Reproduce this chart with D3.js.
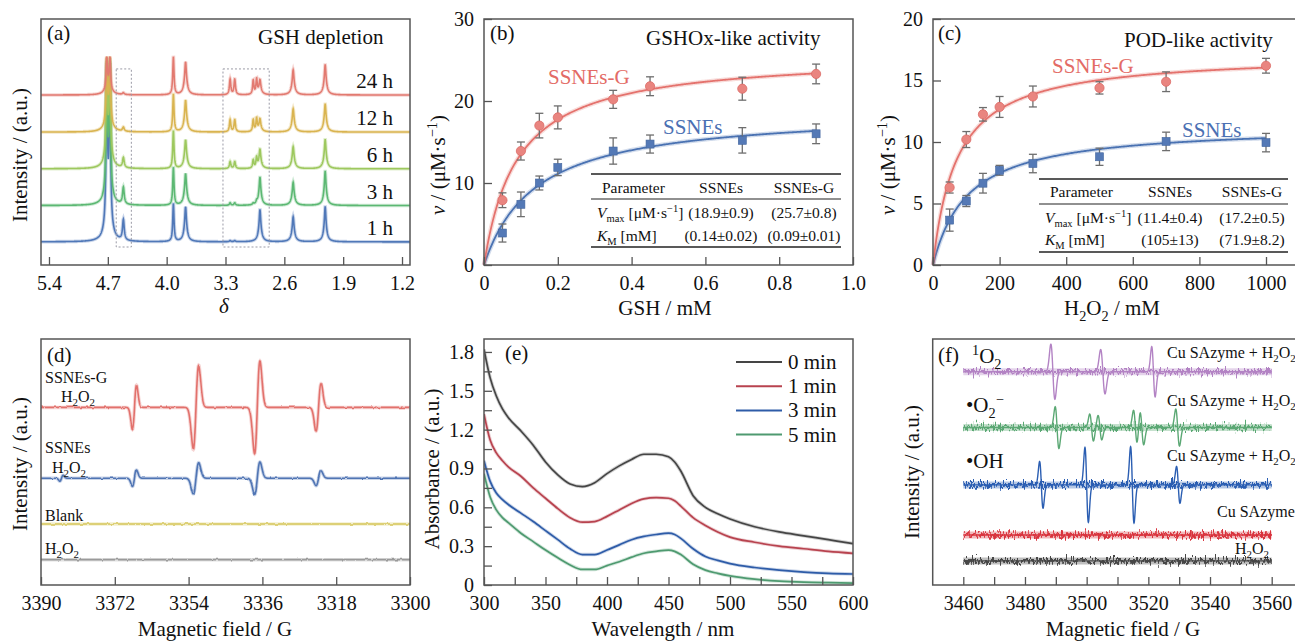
<!DOCTYPE html>
<html>
<head>
<meta charset="utf-8">
<script src="https://cdn.jsdelivr.net/npm/d3@7"></script>
<style>
  html, body { margin: 0; padding: 0; background: #fff; }
  svg { display: block; }
</style>
</head>
<body>
<svg id="chart" width="1295" height="642"></svg>
<script>
// ---------------- data ----------------

// (a) 1H NMR, GSH depletion
const nmrTimes = ["1 h", "3 h", "6 h", "12 h", "24 h"];
const nmrColors = ["#5078b8", "#5cb873", "#9dc85e", "#d9b450", "#e27a70"];
const nmrOffsets = [6.3, 16.2, 26.2, 36.2, 46.3];
// [shift (ppm), half width (ppm)]
const nmrPeaks = [
  [4.713, 0.009], [4.675, 0.009], [4.694, 0.04],
  [4.515, 0.012],
  [3.92, 0.009],
  [3.775, 0.010], [3.775, 0.025],
  [3.245, 0.010], [3.19, 0.010],
  [2.97, 0.009], [2.93, 0.009], [2.89, 0.010], [2.89, 0.025],
  [2.495, 0.010], [2.495, 0.025],
  [2.114, 0.010], [2.114, 0.025]
];
// peak heights for each trace (same order as nmrPeaks)
const nmrHeights = [
  [40, 40, 8, 5.6, 10.2, 5.5, 4.0, 0.3, 0.3, 0.0, 0.0, 5.2, 3.5, 3.8, 3.0, 6.0, 3.5],
  [32, 32, 7, 4.6, 10.2, 4.8, 3.9, 0.7, 0.7, 0.4, 0.6, 4.6, 3.0, 3.5, 2.8, 5.8, 3.5],
  [24, 24, 6, 2.7, 10.2, 4.2, 3.7, 1.9, 1.9, 2.2, 2.6, 3.2, 2.0, 3.3, 2.7, 4.6, 3.3],
  [16, 16, 4.5, 1.1, 10.2, 4.8, 3.9, 3.3, 3.3, 3.2, 3.4, 2.2, 1.3, 3.5, 2.8, 4.4, 3.2],
  [8, 8, 2.5, 0.5, 10.2, 5.0, 4.0, 4.2, 4.2, 3.8, 3.9, 2.4, 1.6, 3.8, 3.0, 4.9, 3.3]
];
const nmrBoxes = [[4.60, 4.42], [3.33, 2.78]];
const nmrBoxY = [4.9, 53.4];
const nmrTicks = [5.4, 4.7, 4.0, 3.3, 2.6, 1.9, 1.2];

// (b) GSHOx-like kinetics
const gshConc = [0.05, 0.1, 0.15, 0.2, 0.35, 0.45, 0.7, 0.9];
const gshRateG = [7.9, 13.9, 17.0, 18.0, 20.2, 21.8, 21.5, 23.3];
const gshErrG = [0.9, 1.1, 1.5, 1.4, 1.1, 1.15, 1.4, 1.2];
const gshRate = [3.9, 7.4, 10.0, 11.9, 13.9, 14.75, 15.2, 16.0];
const gshErr = [1.1, 1.5, 0.85, 1.0, 1.6, 1.1, 1.55, 1.2];
const gshVmax = [18.9, 25.7];   // SSNEs, SSNEs-G
const gshKm = [0.14, 0.09];
const gshTable = [["(18.9±0.9)", "(25.7±0.8)"], ["(0.14±0.02)", "(0.09±0.01)"]];

// (c) POD-like kinetics
const h2o2Conc = [50, 100, 150, 200, 300, 500, 700, 1000];
const podRateG = [6.3, 10.2, 12.25, 12.85, 13.7, 14.4, 14.9, 16.2];
const podErrG = [0.45, 0.65, 0.55, 0.85, 0.85, 0.5, 0.8, 0.6];
const podRate = [3.65, 5.2, 6.65, 7.7, 8.25, 8.8, 10.05, 9.95];
const podErr = [0.9, 0.45, 0.8, 0.4, 0.75, 0.7, 0.75, 0.75];
const podVmax = [11.4, 17.2];
const podKm = [105, 71.9];
const podTable = [["(11.4±0.4)", "(17.2±0.5)"], ["(105±13)", "(71.9±8.2)"]];

// (d) EPR, DMPO-OH quartet
const dLines = [3385.0, 3367.2, 3352.2, 3337.25, 3322.3];
const dWidths = [0.4, 0.5, 0.66, 0.65, 0.6];
const dNames = ["SSNEs-G", "SSNEs", "Blank", "H2O2"];
const dColors = ["#e2716c", "#5075b4", "#d6c65a", "#9a9a9a"];
const dOffsets = [7.22, 4.34, 2.48, 1.03];
const dAmps = [
  [0, 0.9, 1.71, 1.88, 0.96],
  [0.12, 0.33, 0.63, 0.66, 0.30],
  [0, 0, 0, 0, 0],
  [0, 0, 0, 0, 0]
];

// (e) UV-vis absorbance
const wavelength = [300, 305, 310, 315, 320, 330, 340, 350, 360, 370, 380, 390, 400, 410, 420,
  430, 440, 450, 455, 460, 470, 480, 490, 500, 520, 540, 560, 580, 600];
const abs0 = [1.82, 1.60, 1.46, 1.36, 1.29, 1.19, 1.08, 0.95, 0.85, 0.78, 0.76, 0.79, 0.86, 0.92, 0.97,
  1.01, 1.01, 0.99, 0.95, 0.88, 0.69, 0.60, 0.55, 0.51, 0.45, 0.41, 0.38, 0.35, 0.32];
const abs1 = [1.32, 1.12, 1.02, 0.96, 0.91, 0.84, 0.75, 0.67, 0.59, 0.52, 0.485, 0.49, 0.53, 0.58, 0.63,
  0.665, 0.675, 0.67, 0.65, 0.61, 0.52, 0.46, 0.41, 0.37, 0.33, 0.30, 0.28, 0.26, 0.245];
const abs3 = [0.96, 0.80, 0.71, 0.66, 0.62, 0.555, 0.49, 0.42, 0.35, 0.28, 0.235, 0.235, 0.27, 0.31, 0.35,
  0.375, 0.39, 0.40, 0.39, 0.36, 0.28, 0.22, 0.19, 0.165, 0.135, 0.115, 0.10, 0.09, 0.085];
const abs5 = [0.86, 0.68, 0.58, 0.52, 0.48, 0.40, 0.335, 0.27, 0.21, 0.155, 0.12, 0.12, 0.15, 0.18, 0.215,
  0.245, 0.26, 0.27, 0.26, 0.235, 0.16, 0.115, 0.09, 0.07, 0.045, 0.03, 0.022, 0.018, 0.015];
const absNames = ["0 min", "1 min", "3 min", "5 min"];
const absColors = ["#454545", "#b8434f", "#2e5ca8", "#4e9a70"];

// (f) EPR spin trapping of ROS
const fSinglet = [3489.05, 3505.25, 3521.65];
const fSingletW = [0.65, 0.7, 0.55];
const fSingletA = [1.12, 0.9, 1.02];
const fSuperoxide = [3490.4, 3501.6, 3504.3, 3515.8, 3517.9, 3529.5];
const fSuperoxideA = [0.85, 0.55, 0.5, 0.7, 0.7, 0.75];
const fHydroxyl = [3485.3, 3500.0, 3514.8, 3529.7];
const fHydroxylA = [0.95, 1.52, 1.55, 0.75];
const fOffsets = [8.67, 6.40, 4.07, 2.03, 0.98];
const fColors = ["#b383c4", "#5ba874", "#2b5eb2", "#d8333d", "#474747"];

// ---------------- helpers ----------------
const FONT = "'Liberation Serif', 'Times New Roman', Times, serif";
const INK = "#111";
const FRAME = "#555";
const svg = d3.select("#chart").attr("font-family", FONT);

// text with italic / sub / superscript parts
function richText(parent, x, y, parts, size, attrs = {}) {
  const t = parent.append("text").attr("x", x).attr("y", y)
    .attr("font-size", size).attr("fill", INK);
  Object.entries(attrs).forEach(([k, v]) => t.attr(k, v));
  let shift = 0;
  parts.forEach(p => {
    const part = typeof p === "string" ? { t: p } : p;
    const target = part.sub ? 0.28 * size : part.sup ? -0.4 * size : 0;
    const ts = t.append("tspan").text(part.t).attr("dy", target - shift);
    if (part.sub || part.sup) ts.attr("font-size", size * 0.68);
    if (part.it) ts.attr("font-style", "italic");
    shift = target;
  });
  return t;
}
const H2O2 = ["H", { t: "2", sub: true }, "O", { t: "2", sub: true }];

function frame(x0, y0, x1, y1) {
  svg.append("rect").attr("x", x0).attr("y", y0)
    .attr("width", x1 - x0).attr("height", y1 - y0)
    .attr("fill", "none").attr("stroke", FRAME).attr("stroke-width", 1.5);
}

function styleAxis(g) {
  g.select(".domain").remove();
  g.attr("font-family", FONT).attr("font-size", 20);
  g.selectAll("line").attr("stroke", FRAME).attr("stroke-width", 1.3);
  g.selectAll("text").attr("fill", INK);
}

function bottomAxis(scale, y, values, fmt) {
  const ax = d3.axisBottom(scale).tickValues(values).tickFormat(fmt)
    .tickSizeInner(-8).tickSizeOuter(0).tickPadding(11);
  svg.append("g").attr("transform", `translate(0,${y})`).call(ax).call(styleAxis);
}

function leftAxis(scale, x, values, fmt) {
  const ax = d3.axisLeft(scale).tickValues(values).tickFormat(fmt)
    .tickSizeInner(-8).tickSizeOuter(0).tickPadding(10);
  svg.append("g").attr("transform", `translate(${x},0)`).call(ax).call(styleAxis);
}

function clip(id, x, y, w, h) {
  svg.append("clipPath").attr("id", id).append("rect")
    .attr("x", x).attr("y", y).attr("width", w).attr("height", h);
}

// first-derivative EPR line, +1 / -1 at one width either side of centre
function eprLine(field, c, w, a) {
  const u = (c - field) / w;
  return a * u * Math.exp((1 - u * u) / 2);
}

// noise texture filters for EPR baselines (rendering only, vertical jitter)
const defs = svg.append("defs");
function noiseFilter(id, box, freq, scale) {
  const f = defs.append("filter").attr("id", id)
    .attr("filterUnits", "userSpaceOnUse")
    .attr("x", box[0]).attr("y", box[1]).attr("width", box[2]).attr("height", box[3])
    .attr("color-interpolation-filters", "sRGB");
  f.append("feTurbulence").attr("type", "fractalNoise").attr("baseFrequency", freq)
    .attr("numOctaves", 2).attr("seed", 4).attr("result", "turb");
  f.append("feColorMatrix").attr("in", "turb").attr("type", "matrix")
    .attr("values", "0 0 0 0 0.5  0 1 0 0 0  0 0 1 0 0  0 0 0 0 1").attr("result", "disp");
  f.append("feDisplacementMap").attr("in", "SourceGraphic").attr("in2", "disp")
    .attr("scale", scale).attr("xChannelSelector", "R").attr("yChannelSelector", "G");
}
noiseFilter("noiseF", [930, 330, 370, 270], "0.6 0.12", 16);
noiseFilter("noiseD", [38, 330, 375, 270], "0.2 0.05", 3);

// ---------------- (a) NMR ----------------
(function panelA() {
  const x = d3.scaleLinear().domain([5.495, 1.105]).range([41, 410]);
  const y = d3.scaleLinear().domain([0, 67]).range([265, 19]);
  clip("clipA", 41, 19, 369, 246);

  const grid = d3.range(5.495, 1.105, -0.002);
  nmrTimes.forEach((name, k) => {
    const spec = grid.map(s => ({
      s, v: nmrOffsets[k] + d3.sum(nmrPeaks, (p, i) => nmrHeights[k][i] / (1 + ((s - p[0]) / p[1]) ** 2))
    }));
    const line = d3.line().x(d => x(d.s)).y(d => y(d.v));
    svg.append("path").datum(spec).attr("d", line).attr("clip-path", "url(#clipA)")
      .attr("fill", "none").attr("stroke", nmrColors[k]).attr("stroke-opacity", 0.3).attr("stroke-width", 3.6);
    svg.append("path").datum(spec).attr("d", line).attr("clip-path", "url(#clipA)")
      .attr("fill", "none").attr("stroke", nmrColors[k]).attr("stroke-width", 1.6);
    svg.append("text").attr("x", 393).attr("y", y(nmrOffsets[k]) - 7)
      .attr("text-anchor", "end").attr("font-size", 21).attr("fill", INK).text(name);
  });

  nmrBoxes.forEach(b => {
    svg.append("rect").attr("x", x(b[0])).attr("y", y(nmrBoxY[1]))
      .attr("width", x(b[1]) - x(b[0])).attr("height", y(nmrBoxY[0]) - y(nmrBoxY[1]))
      .attr("fill", "none").attr("stroke", "#9a9aa6").attr("stroke-width", 1)
      .attr("stroke-dasharray", "2,2");
  });

  frame(41, 19, 410, 265);
  bottomAxis(x, 265, nmrTicks, d => d.toFixed(1));
  svg.append("text").attr("x", 47).attr("y", 40).attr("font-size", 21).attr("fill", INK).text("(a)");
  svg.append("text").attr("x", 258).attr("y", 44).attr("font-size", 21).attr("fill", INK).text("GSH depletion");
  svg.append("text").attr("transform", "translate(27,155) rotate(-90)").attr("text-anchor", "middle")
    .attr("font-size", 21).attr("fill", INK).text("Intensity / (a.u.)");
  svg.append("text").attr("x", 224).attr("y", 313).attr("text-anchor", "middle")
    .attr("font-size", 21).attr("font-style", "italic").attr("fill", INK).text("δ");
})();

// ---------------- kinetics panels (b) and (c) ----------------
function kineticsPanel(cfg) {
  const x = d3.scaleLinear().domain(cfg.xDomain).range(cfg.xRange);
  const y = d3.scaleLinear().domain(cfg.yDomain).range([265, 19]);
  const series = [
    { v: cfg.rate, e: cfg.err, color: "#4a72b2", shape: "square", vmax: cfg.vmax[0], km: cfg.km[0] },
    { v: cfg.rateG, e: cfg.errG, color: "#e4726d", shape: "circle", vmax: cfg.vmax[1], km: cfg.km[1] }
  ];
  const fitX = d3.range(0, cfg.fitEnd + 1e-9, cfg.fitEnd / 300);

  series.forEach(s => {
    const fit = fitX.map(c => [c, s.vmax * c / (s.km + c)]);
    const line = d3.line().x(d => x(d[0])).y(d => y(d[1]));
    svg.append("path").datum(fit).attr("d", line).attr("fill", "none")
      .attr("stroke", s.color).attr("stroke-opacity", 0.25).attr("stroke-width", 4.5);
    svg.append("path").datum(fit).attr("d", line).attr("fill", "none")
      .attr("stroke", s.color).attr("stroke-width", 1.8);

    cfg.conc.forEach((c, i) => {
      const cx = x(c), top = y(s.v[i] + s.e[i]), bot = y(s.v[i] - s.e[i]);
      const g = svg.append("g").attr("stroke", "#6e6e6e").attr("stroke-width", 1.3);
      g.append("line").attr("x1", cx).attr("x2", cx).attr("y1", top).attr("y2", bot);
      g.append("line").attr("x1", cx - 4).attr("x2", cx + 4).attr("y1", top).attr("y2", top);
      g.append("line").attr("x1", cx - 4).attr("x2", cx + 4).attr("y1", bot).attr("y2", bot);
      if (s.shape === "circle") {
        svg.append("circle").attr("cx", cx).attr("cy", y(s.v[i])).attr("r", 4.6)
          .attr("fill", "#e98580").attr("stroke", "#dc6a65").attr("stroke-width", 0.8);
      } else {
        svg.append("rect").attr("x", cx - 4).attr("y", y(s.v[i]) - 4).attr("width", 8).attr("height", 8)
          .attr("fill", "#5479b6").attr("stroke", "#44679f").attr("stroke-width", 0.6);
      }
    });
  });

  frame(cfg.xRange[0], 19, cfg.frameRight, 265);
  bottomAxis(x, 265, cfg.xTicks, cfg.xFmt);
  leftAxis(y, cfg.xRange[0], cfg.yTicks, d => d);

  svg.append("text").attr("x", cfg.tag[0]).attr("y", 40).attr("font-size", 21).attr("fill", INK).text(cfg.tag[1]);
  svg.append("text").attr("x", cfg.title[0]).attr("y", cfg.title[1]).attr("font-size", 21)
    .attr("fill", INK).text(cfg.title[2]);
  svg.append("text").attr("x", cfg.labG[0]).attr("y", cfg.labG[1]).attr("font-size", 21)
    .attr("fill", "#e36b66").text("SSNEs-G");
  svg.append("text").attr("x", cfg.lab[0]).attr("y", cfg.lab[1]).attr("font-size", 21)
    .attr("fill", "#4b70b3").text("SSNEs");

  // parameter table
  const t = cfg.table;
  [t.top, t.mid, t.bot].forEach((ly, i) => {
    svg.append("line").attr("x1", t.x0).attr("x2", t.x1).attr("y1", ly).attr("y2", ly)
      .attr("stroke", "#222").attr("stroke-width", i === 1 ? 1.2 : 1.4);
  });
  const fs = 15.5;
  svg.append("text").attr("x", t.x0 + 11).attr("y", t.rows[0]).attr("font-size", fs).attr("fill", INK).text("Parameter");
  svg.append("text").attr("x", t.c1).attr("y", t.rows[0]).attr("text-anchor", "middle").attr("font-size", fs).attr("fill", INK).text("SSNEs");
  svg.append("text").attr("x", t.c2).attr("y", t.rows[0]).attr("text-anchor", "middle").attr("font-size", fs).attr("fill", INK).text("SSNEs-G");
  richText(svg, t.x0 + 6, t.rows[1], [{ t: "V", it: true }, { t: "max", sub: true }, " [μM·s", { t: "−1", sup: true }, "]"], fs);
  richText(svg, t.x0 + 6, t.rows[2], [{ t: "K", it: true }, { t: "M", sub: true }, " [mM]"], fs);
  cfg.tableVals.forEach((row, r) => {
    svg.append("text").attr("x", t.c1).attr("y", t.rows[r + 1]).attr("text-anchor", "middle").attr("font-size", fs).attr("fill", INK).text(row[0]);
    svg.append("text").attr("x", t.c2).attr("y", t.rows[r + 1]).attr("text-anchor", "middle").attr("font-size", fs).attr("fill", INK).text(row[1]);
  });

  richText(svg, 0, 0, [{ t: "v", it: true }, " / (μM·s", { t: "−1", sup: true }, ")"], 21,
    { transform: `translate(${cfg.yLabX},165) rotate(-90)`, "text-anchor": "middle" });
  richText(svg, cfg.xLab[0], 315, cfg.xLab[1], 21, { "text-anchor": "middle" });
}

kineticsPanel({
  xDomain: [0, 1], xRange: [484, 853], frameRight: 853, yDomain: [0, 30], fitEnd: 0.9,
  conc: gshConc, rate: gshRate, err: gshErr, rateG: gshRateG, errG: gshErrG,
  vmax: gshVmax, km: gshKm, tableVals: gshTable,
  xTicks: [0, 0.2, 0.4, 0.6, 0.8, 1.0], xFmt: d => d === 0 ? "0" : d.toFixed(1),
  yTicks: [0, 10, 20, 30],
  tag: [490, "(b)"], title: [646, 45, "GSHOx-like activity"],
  labG: [548, 84], lab: [663, 134],
  table: { x0: 591, x1: 841, top: 174, mid: 199, bot: 247, rows: [193, 218, 241], c1: 721, c2: 804 },
  yLabX: 445, xLab: [665, ["GSH / mM"]]
});

kineticsPanel({
  xDomain: [0, 1000], xRange: [933, 1266], frameRight: 1320, yDomain: [0, 20], fitEnd: 1000,
  conc: h2o2Conc, rate: podRate, err: podErr, rateG: podRateG, errG: podErrG,
  vmax: podVmax, km: podKm, tableVals: podTable,
  xTicks: [0, 200, 400, 600, 800, 1000], xFmt: d => d,
  yTicks: [0, 5, 10, 15, 20],
  tag: [938, "(c)"], title: [1124, 47, "POD-like activity"],
  labG: [1052, 73], lab: [1182, 137],
  table: { x0: 1039, x1: 1288, top: 179, mid: 204, bot: 252, rows: [197, 223, 245], c1: 1170, c2: 1252 },
  yLabX: 895, xLab: [1112, H2O2.concat([" / mM"])]
});

// ---------------- (d) EPR ----------------
(function panelD() {
  const x = d3.scaleLinear().domain([3390, 3300]).range([41, 410]);
  const y = d3.scaleLinear().domain([0, 10]).range([585, 339]);
  const grid = d3.range(3300, 3390.0001, 0.05);
  dNames.forEach((name, k) => {
    const spec = grid.map(f => [f, dOffsets[k] + d3.sum(dLines, (c, i) => eprLine(f, c, dWidths[i], dAmps[k][i]))]);
    const line = d3.line().x(d => x(d[0])).y(d => y(d[1]));
    svg.append("path").datum(spec).attr("d", line).attr("fill", "none")
      .attr("stroke", dColors[k]).attr("stroke-opacity", 0.3).attr("stroke-width", 3.5);
    svg.append("path").datum(spec).attr("d", line).attr("fill", "none").attr("filter", "url(#noiseD)")
      .attr("stroke", dColors[k]).attr("stroke-width", 1.6);
  });

  const fs = 16;
  svg.append("text").attr("x", 45).attr("y", 383).attr("font-size", fs).attr("fill", INK).text("SSNEs-G");
  richText(svg, 61, 402, H2O2, fs);
  svg.append("text").attr("x", 45).attr("y", 453).attr("font-size", fs).attr("fill", INK).text("SSNEs");
  richText(svg, 52, 473, H2O2, fs);
  svg.append("text").attr("x", 45).attr("y", 521).attr("font-size", fs).attr("fill", INK).text("Blank");
  richText(svg, 45, 554, H2O2, fs);

  frame(41, 339, 410, 585);
  bottomAxis(x, 585, [3390, 3372, 3354, 3336, 3318, 3300], d => d);
  svg.append("text").attr("x", 47).attr("y", 362).attr("font-size", 21).attr("fill", INK).text("(d)");
  svg.append("text").attr("transform", "translate(27,464) rotate(-90)").attr("text-anchor", "middle")
    .attr("font-size", 21).attr("fill", INK).text("Intensity / (a.u.)");
  svg.append("text").attr("x", 215).attr("y", 636).attr("text-anchor", "middle")
    .attr("font-size", 21).attr("fill", INK).text("Magnetic field / G");
})();

// ---------------- (e) UV-vis ----------------
(function panelE() {
  const x = d3.scaleLinear().domain([300, 600]).range([484, 853]);
  const y = d3.scaleLinear().domain([0, 1.9]).range([585, 339]);
  clip("clipE", 484, 339, 369, 246);
  const line = d3.line().curve(d3.curveMonotoneX).x((d, i) => x(wavelength[i])).y(d => y(d));
  [abs0, abs1, abs3, abs5].forEach((s, k) => {
    svg.append("path").datum(s).attr("d", line).attr("clip-path", "url(#clipE)")
      .attr("fill", "none").attr("stroke", absColors[k]).attr("stroke-opacity", 0.25).attr("stroke-width", 3.5);
    svg.append("path").datum(s).attr("d", line).attr("clip-path", "url(#clipE)")
      .attr("fill", "none").attr("stroke", absColors[k]).attr("stroke-width", 1.7);
  });

  // legend
  absNames.forEach((name, k) => {
    const ly = 362 + k * 24.2;
    svg.append("line").attr("x1", 736).attr("x2", 782).attr("y1", ly).attr("y2", ly)
      .attr("stroke", absColors[k]).attr("stroke-width", 2);
    svg.append("text").attr("x", 788).attr("y", ly + 7).attr("font-size", 21).attr("fill", INK).text(name);
  });

  frame(484, 339, 853, 585);
  bottomAxis(x, 585, d3.range(300, 601, 25), d => d % 50 ? "" : d);
  leftAxis(y, 484, d3.range(0, 13).map(i => i * 0.15), (d, i) => i % 2 ? "" : (i === 0 ? "0" : d.toFixed(1)));
  svg.append("text").attr("x", 505).attr("y", 360).attr("font-size", 21).attr("fill", INK).text("(e)");
  svg.append("text").attr("transform", "translate(439,469) rotate(-90)").attr("text-anchor", "middle")
    .attr("font-size", 21).attr("fill", INK).text("Absorbance / (a.u.)");
  svg.append("text").attr("x", 663).attr("y", 636).attr("text-anchor", "middle")
    .attr("font-size", 21).attr("fill", INK).text("Wavelength / nm");
})();

// ---------------- (f) EPR spin trapping ----------------
(function panelF() {
  const x = d3.scaleLinear().domain([3460, 3560]).range([963.3, 1271.7]);
  const y = d3.scaleLinear().domain([0, 10]).range([585, 339]);
  const grid = d3.range(3460, 3560.0001, 0.05);
  const traces = [
    { lines: fSinglet, w: fSingletW, a: fSingletA },
    { lines: fSuperoxide, w: fSuperoxide.map(() => 0.6), a: fSuperoxideA },
    { lines: fHydroxyl, w: fHydroxyl.map(() => 0.55), a: fHydroxylA },
    { lines: [], w: [], a: [] },
    { lines: [], w: [], a: [] }
  ];
  traces.forEach((tr, k) => {
    const spec = grid.map(f => [f, fOffsets[k] + d3.sum(tr.lines, (c, i) => eprLine(f, c, tr.w[i], tr.a[i]))]);
    const line = d3.line().x(d => x(d[0])).y(d => y(d[1]));
    const base = [[3460, fOffsets[k]], [3560, fOffsets[k]]];
    // ragged noise band along the baseline
    svg.append("path").datum(base).attr("d", line).attr("fill", "none")
      .attr("stroke", fColors[k]).attr("stroke-opacity", 0.35).attr("stroke-width", 7);
    svg.append("path").datum(base).attr("d", line).attr("fill", "none").attr("filter", "url(#noiseF)")
      .attr("stroke", fColors[k]).attr("stroke-width", 3.6);
    // spectrum itself
    svg.append("path").datum(spec).attr("d", line).attr("fill", "none")
      .attr("stroke", fColors[k]).attr("stroke-width", 1.4);
  });

  const fs = 16;
  const plus = ["Cu SAzyme + "].concat(H2O2);
  richText(svg, 1167, 358, plus, fs);
  richText(svg, 1167, 406, plus, fs);
  richText(svg, 1167, 461, plus, fs);
  svg.append("text").attr("x", 1217).attr("y", 517).attr("font-size", fs).attr("fill", INK).text("Cu SAzyme");
  richText(svg, 1235, 554, H2O2, fs);

  richText(svg, 972, 363, [{ t: "1", sup: true }, "O", { t: "2", sub: true }], 21);
  richText(svg, 966, 412, ["•O", { t: "2", sub: true }, { t: "−", sup: true }], 21);
  svg.append("text").attr("x", 966).attr("y", 468).attr("font-size", 21).attr("fill", INK).text("•OH");

  frame(932.7, 339, 1320, 585);
  bottomAxis(x, 585, d3.range(3460, 3561, 10), d => d % 20 ? "" : d);
  svg.append("text").attr("x", 938).attr("y", 362).attr("font-size", 21).attr("fill", INK).text("(f)");
  svg.append("text").attr("transform", "translate(919,472) rotate(-90)").attr("text-anchor", "middle")
    .attr("font-size", 21).attr("fill", INK).text("Intensity / (a.u.)");
  svg.append("text").attr("x", 1123).attr("y", 636).attr("text-anchor", "middle")
    .attr("font-size", 21).attr("fill", INK).text("Magnetic field / G");
})();
</script>
</body>
</html>
